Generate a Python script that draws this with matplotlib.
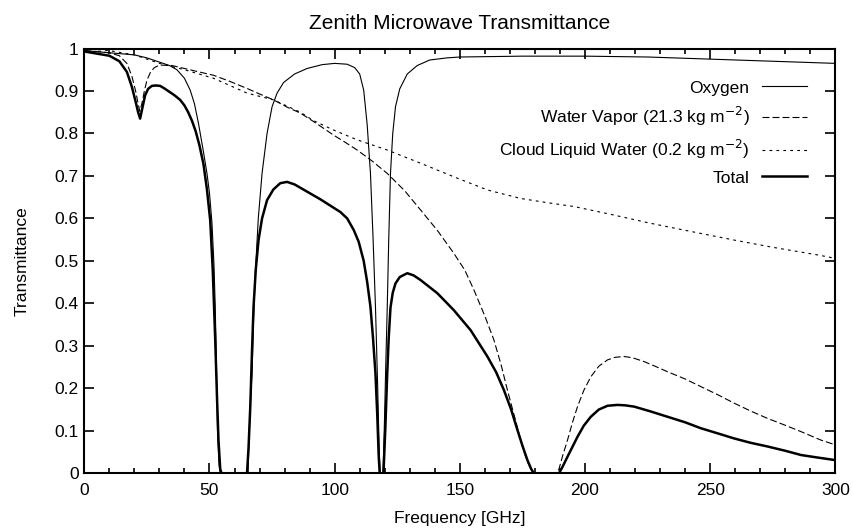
import numpy as np
import matplotlib
matplotlib.use('Agg')
import matplotlib.pyplot as plt
from matplotlib.ticker import MultipleLocator, FormatStrFormatter

plt.rcParams['font.family'] = ['Liberation Sans', 'DejaVu Sans']
plt.rcParams['font.size'] = 12.5
plt.rcParams['lines.scale_dashes'] = False

# frequency [GHz] / transmittance
o2_f = [0, 10, 20, 25, 30, 34, 37, 40, 42.3, 44, 45.6, 47.5, 49, 50, 51, 51.8, 52.3, 52.8,
        53.2, 53.8, 54.3, 65.4, 65.8, 66.3, 67, 67.6, 68.3, 69.5, 71, 73, 75, 77, 79.6, 84,
        89, 95, 100, 105, 108, 110, 111.6, 113, 114.3, 115.3, 116.3, 117.2, 117.8, 118.2,
        119.3, 119.8, 120.4, 121, 121.6, 122.3, 123.2, 124.3, 126, 129, 133, 138, 145, 150,
        175, 200, 225, 250, 275, 300]
o2_t = [0.995, 0.99, 0.985, 0.978, 0.968, 0.96, 0.95, 0.93, 0.902, 0.87, 0.824, 0.76, 0.706,
        0.66, 0.589, 0.49, 0.392, 0.25, 0.102, 0.02, 0, 0, 0.08, 0.16, 0.235, 0.36, 0.47, 0.6,
        0.706, 0.8, 0.863, 0.895, 0.92, 0.94, 0.953, 0.962, 0.965, 0.963, 0.955, 0.94, 0.902,
        0.82, 0.706, 0.56, 0.392, 0.2, 0.05, 0, 0, 0.1, 0.25, 0.39, 0.55, 0.706, 0.8, 0.863,
        0.905, 0.94, 0.96, 0.973, 0.978, 0.98, 0.982, 0.982, 0.98, 0.975, 0.97, 0.965]

wv_f = [0, 5, 10, 14, 17, 19, 20.5, 21.5, 22.2, 23, 24, 25, 26.5, 28, 30, 35, 40, 45, 51.6,
        58, 65, 70, 75.6, 81, 86.3, 91.6, 99.6, 104, 109, 115, 121, 128, 134.3, 141, 147.6,
        152, 155.6, 160, 163.6, 166.5, 169, 172, 174.3, 176.5, 178.3, 179.5, 188.5, 189.6,
        191, 193, 195, 197, 199.5, 202.3, 205.5, 209, 212, 215.6, 219, 223.6, 228, 233, 240,
        246.3, 253, 259.6, 266, 273, 280, 286.3, 294.3, 300]
wv_t = [0.995, 0.993, 0.99, 0.983, 0.965, 0.935, 0.9, 0.87, 0.852, 0.87, 0.9, 0.925, 0.945,
        0.955, 0.961, 0.96, 0.953, 0.946, 0.937, 0.923, 0.906, 0.893, 0.879, 0.862, 0.848,
        0.828, 0.796, 0.78, 0.761, 0.735, 0.706, 0.665, 0.62, 0.572, 0.518, 0.478, 0.432,
        0.37, 0.314, 0.255, 0.196, 0.13, 0.078, 0.035, 0.01, 0, 0, 0.01, 0.04, 0.078, 0.12,
        0.157, 0.195, 0.227, 0.252, 0.267, 0.273, 0.275, 0.272, 0.263, 0.252, 0.239, 0.222,
        0.204, 0.185, 0.165, 0.147, 0.129, 0.113, 0.098, 0.078, 0.067]

clw_f = [0, 10, 20, 30, 40, 51.6, 65, 75.6, 86.3, 91.6, 99.6, 109, 121, 134.3, 147.6, 161,
         174.3, 185, 195.6, 210, 225, 240, 259.6, 275, 293, 300]
clw_t = [1.0, 0.995, 0.985, 0.965, 0.95, 0.93, 0.895, 0.879, 0.85, 0.83, 0.808, 0.785, 0.761,
         0.73, 0.698, 0.667, 0.647, 0.637, 0.628, 0.61, 0.59, 0.572, 0.549, 0.532, 0.514, 0.506]

tot_f = [0, 5, 10, 14, 17, 19, 20.5, 21.5, 22.3, 23.2, 24.3, 25.5, 27, 28.5, 30.3, 32, 34,
         36, 38.3, 40, 41.5, 43, 44.5, 46, 47.6, 49, 50.3, 51.3, 52.3, 53, 53.6, 54.3, 54.8,
         65, 65.6, 66.3, 67, 67.6, 68.5, 69.6, 71, 73, 75.5, 78.3, 81, 84, 89, 94.3, 98.3,
         102.3, 105, 107.6, 109.6, 111.6, 113, 114.3, 115.3, 116.3, 117, 117.6, 118, 119.5,
         120.2, 121, 121.6, 122.3, 123.2, 124.3, 126, 129, 131.5, 134.3, 141, 147.6, 154.3,
         161, 164.5, 167.6, 170.5, 173, 175, 177, 178.5, 179.6, 189.6, 191, 193, 197, 199.5,
         202.3, 205.5, 209, 213, 216, 219.6, 226, 233, 240, 246.3, 253, 259.6, 266, 273, 280,
         286.3, 293, 300]
tot_t = [0.993, 0.988, 0.983, 0.97, 0.945, 0.91, 0.875, 0.85, 0.835, 0.86, 0.89, 0.905, 0.912,
         0.913, 0.912, 0.906, 0.898, 0.89, 0.879, 0.866, 0.85, 0.83, 0.805, 0.772, 0.728, 0.668,
         0.595, 0.48, 0.314, 0.18, 0.078, 0.01, 0, 0, 0.06, 0.157, 0.29, 0.392, 0.48, 0.549,
         0.6, 0.643, 0.668, 0.683, 0.686, 0.68, 0.663, 0.645, 0.63, 0.615, 0.6, 0.573, 0.545,
         0.5, 0.45, 0.392, 0.32, 0.235, 0.14, 0.04, 0, 0, 0.1, 0.235, 0.32, 0.39, 0.425,
         0.447, 0.462, 0.471, 0.466, 0.455, 0.424, 0.384, 0.337, 0.275, 0.238, 0.196, 0.15,
         0.102, 0.065, 0.031, 0.01, 0, 0, 0.015, 0.039, 0.086, 0.112, 0.133, 0.15, 0.159,
         0.161, 0.16, 0.157, 0.146, 0.133, 0.12, 0.106, 0.094, 0.082, 0.072, 0.063, 0.053,
         0.043, 0.037, 0.031]

fig = plt.figure(figsize=(8.54, 5.29), dpi=100)
ax = fig.add_axes([0.0987, 0.1053, 0.8795, 0.803])

ax.plot(o2_f, o2_t, color='black', lw=0.8, label='Oxygen')
ax.plot(wv_f, wv_t, color='black', lw=0.8, linestyle=(0, (5, 2.2)),
        label='Water Vapor (21.3 kg m$^{-2}$)')
ax.plot(clw_f, clw_t, color='black', lw=0.8, linestyle=(0, (2, 3)),
        label='Cloud Liquid Water (0.2 kg m$^{-2}$)')
ax.plot(tot_f, tot_t, color='black', lw=1.8, label='Total')

ax.set_xlim(0, 300)
ax.set_ylim(0, 1)
ax.xaxis.set_major_locator(MultipleLocator(50))
ax.xaxis.set_minor_locator(MultipleLocator(10))
ax.yaxis.set_major_locator(MultipleLocator(0.1))
ax.yaxis.set_major_formatter(FormatStrFormatter('%g'))
ax.tick_params(which='both', direction='in', top=True, right=True, width=1.2)
ax.tick_params(which='major', length=7)
ax.tick_params(which='minor', length=3.5)
ax.tick_params(axis='x', pad=7)
ax.tick_params(axis='y', pad=4)
for s in ax.spines.values():
    s.set_linewidth(1.5)

ax.set_title('Zenith Microwave Transmittance', pad=14)
ax.set_xlabel('Frequency [GHz]', labelpad=9)
ax.set_ylabel('Transmittance', labelpad=18)

ax.legend(loc='upper right', bbox_to_anchor=(0.962, 0.925), frameon=False,
          markerfirst=False, borderpad=0, borderaxespad=0, handlelength=2.6,
          handletextpad=0.7, labelspacing=0.55)

fig.savefig('out.png', dpi=100)
